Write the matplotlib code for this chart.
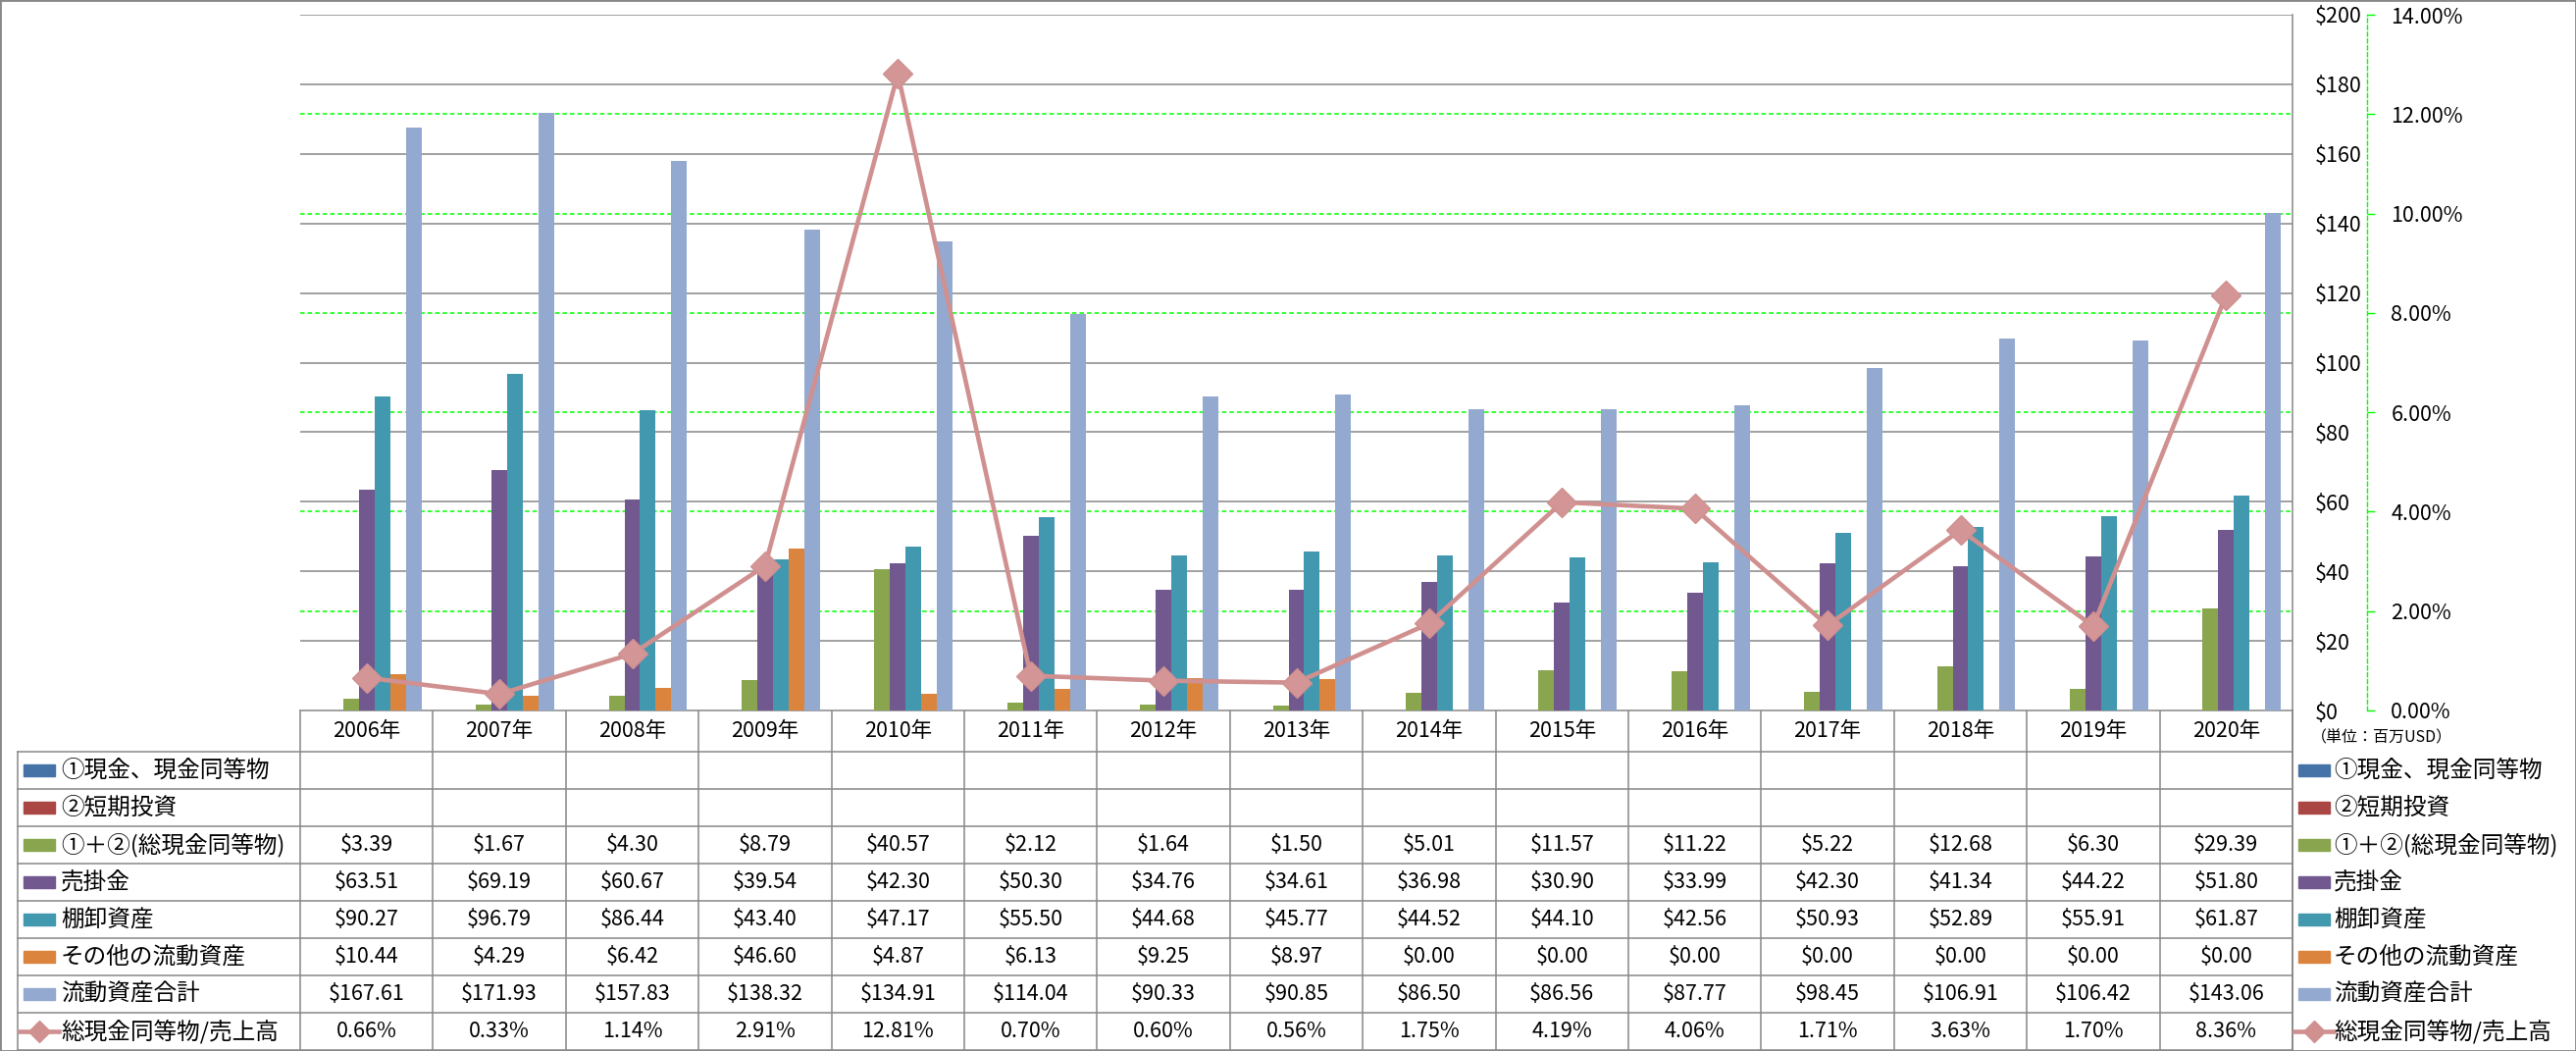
import numpy as np
import matplotlib
matplotlib.use("Agg")
import matplotlib.pyplot as plt
from matplotlib.patches import Rectangle
from matplotlib.ticker import FuncFormatter, MultipleLocator
from matplotlib.transforms import blended_transform_factory

plt.rcParams['font.family'] = ['Noto Sans CJK JP', 'DejaVu Sans']

# data (百万USD)
years = ['2006年', '2007年', '2008年', '2009年', '2010年', '2011年', '2012年', '2013年',
         '2014年', '2015年', '2016年', '2017年', '2018年', '2019年', '2020年']
cash = []          # ①現金、現金同等物 (no values)
short_inv = []     # ②短期投資 (no values)
total_cash = [3.39, 1.67, 4.30, 8.79, 40.57, 2.12, 1.64, 1.50, 5.01, 11.57, 11.22, 5.22, 12.68, 6.30, 29.39]
receivables = [63.51, 69.19, 60.67, 39.54, 42.30, 50.30, 34.76, 34.61, 36.98, 30.90, 33.99, 42.30, 41.34, 44.22, 51.80]
inventory = [90.27, 96.79, 86.44, 43.40, 47.17, 55.50, 44.68, 45.77, 44.52, 44.10, 42.56, 50.93, 52.89, 55.91, 61.87]
other_cur = [10.44, 4.29, 6.42, 46.60, 4.87, 6.13, 9.25, 8.97, 0, 0, 0, 0, 0, 0, 0]
cur_total = [167.61, 171.93, 157.83, 138.32, 134.91, 114.04, 90.33, 90.85, 86.50, 86.56, 87.77, 98.45, 106.91, 106.42, 143.06]
cash_ratio = [0.66, 0.33, 1.14, 2.91, 12.81, 0.70, 0.60, 0.56, 1.75, 4.19, 4.06, 1.71, 3.63, 1.70, 8.36]  # %

bar_names = ['①現金、現金同等物', '②短期投資', '①＋②(総現金同等物)', '売掛金', '棚卸資産',
             'その他の流動資産', '流動資産合計']
bar_colors = ['#4572A7', '#AA4643', '#89A54E', '#71588F', '#4198AF', '#DB843D', '#93A9CF']
bar_values = [cash, short_inv, total_cash, receivables, inventory, other_cur, cur_total]
line_name = '総現金同等物/売上高'
line_color = '#D09090'

# layout in pixels
W, H = 2626, 1071
PL, PR, PT, PB = 306, 2337, 15, 724
TL = 18
HEAD = 42
ROW = 38
GRID = '#888888'

fig = plt.figure(figsize=(W / 100, H / 100), dpi=100)
ax = fig.add_axes([PL / W, 1 - PB / H, (PR - PL) / W, (PB - PT) / H])
ax2 = ax.twinx()

n = len(years)
x = np.arange(n)
w = 0.118
for i, (name, col, vals) in enumerate(zip(bar_names, bar_colors, bar_values)):
    if len(vals):
        ax.bar(x + (i - 3) * w, vals, w, color=col, zorder=2)

ax.set_xlim(-0.5, n - 0.5)
ax.set_ylim(0, 200)
ax.yaxis.set_major_locator(MultipleLocator(20))
ax.yaxis.tick_right()
ax.yaxis.set_major_formatter(FuncFormatter(lambda v, p: f"${v:.0f}"))
ax.tick_params(axis='y', length=0, pad=16.5, labelsize=15.5)
ax.set_xticks([])
ax.grid(axis='y', color=GRID, lw=1.1)
ax.set_axisbelow(True)
for s in ['left', 'top', 'bottom']:
    ax.spines[s].set_visible(False)
ax.spines['right'].set_color(GRID)
ax.spines['right'].set_linewidth(1.1)

# secondary (percent) axis
ax2.plot(x, cash_ratio, color=line_color, lw=3.3, marker='D', ms=15,
         mec=line_color, mfc='#D39595', solid_joinstyle='round', zorder=5)
ax2.set_ylim(0, 14)
ax2.yaxis.set_major_locator(MultipleLocator(2))
ax2.yaxis.set_major_formatter(FuncFormatter(lambda v, p: f"{v:.2f}%"))
ax2.tick_params(axis='y', length=6, width=1, color='#00FF00', pad=11.5, labelsize=15.5)
for s in ['left', 'top', 'bottom']:
    ax2.spines[s].set_visible(False)
ax2.spines['right'].set_position(('axes', (2413 - PL) / (PR - PL)))
ax2.spines['right'].set_color('#00FF00')
ax2.spines['right'].set_linestyle((0, (3, 2)))
ax2.spines['right'].set_linewidth(1)

# percent gridlines drawn behind the bars
btr = blended_transform_factory(ax.transAxes, ax2.transData)
for t in ax2.get_yticks():
    if 0 < t < 14:
        ax.plot([0, 1], [t, t], transform=btr, color='#00FF00', ls=(0, (3, 2)), lw=1.1, zorder=1)

# data table and legend (pixel coordinates)
tax = fig.add_axes([0, 0, 1, 1], zorder=-1)
tax.set_xlim(0, W)
tax.set_ylim(H, 0)
tax.axis('off')

cw = (PR - PL) / n
nrows = len(bar_names) + 1
bottom = PB + HEAD + ROW * nrows
tax.plot([PL, PR], [PB, PB], color=GRID, lw=1.1)
for r in range(nrows + 1):
    yy = PB + HEAD + ROW * r
    tax.plot([TL, PR], [yy, yy], color=GRID, lw=1.1)
for k in range(n + 1):
    xx = PL + cw * k
    tax.plot([xx, xx], [PB, bottom], color=GRID, lw=1.1)
tax.plot([TL, TL], [PB + HEAD, bottom], color=GRID, lw=1.1)
tax.plot([PR, PR], [PB, bottom], color=GRID, lw=1.1)

for j, yr in enumerate(years):
    tax.text(PL + cw * (j + 0.5), PB + HEAD / 2, yr, ha='center', va='center', fontsize=15.5)

rows = list(zip(bar_names, bar_colors, bar_values))
for r in range(nrows):
    yc = PB + HEAD + ROW * (r + 0.5)
    if r < len(rows):
        name, col, vals = rows[r]
        tax.add_patch(Rectangle((24, yc - 6), 32, 12, color=col))
        tax.add_patch(Rectangle((2343, yc - 6), 32, 12, color=col))
        texts = [f"${v:.2f}" for v in vals]
    else:
        name = line_name
        for x0, x1 in [(20, 60), (2339, 2379)]:
            tax.plot([x0, x1], [yc, yc], color=line_color, lw=3.3)
            tax.plot([(x0 + x1) / 2], [yc], marker='D', ms=11, color=line_color)
        texts = [f"{v:.2f}%" for v in cash_ratio]
    tax.text(62, yc, name, ha='left', va='center', fontsize=17)
    tax.text(2379, yc, name, ha='left', va='center', fontsize=17)
    for j, s in enumerate(texts):
        tax.text(PL + cw * (j + 0.5), yc, s, ha='center', va='center', fontsize=15.5)

tax.text(2356, 752, '（単位：百万USD）', ha='left', va='center', fontsize=11.5)

fig.patches.append(Rectangle((0, 0), 1, 1, transform=fig.transFigure, fill=False,
                             ec=GRID, lw=2))

fig.savefig('out.png', dpi=100)
